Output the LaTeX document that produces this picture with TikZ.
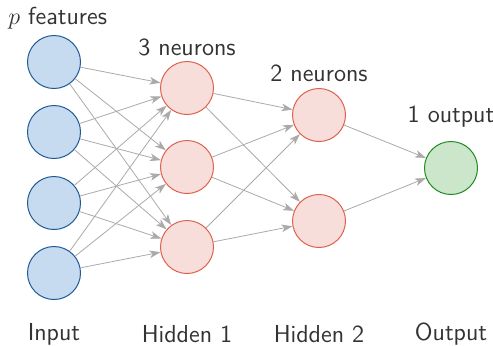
\documentclass[tikz,border=0pt]{standalone}
\usetikzlibrary{arrows.meta}
\definecolor{inblue}{HTML}{1F5A96}
\definecolor{infill}{HTML}{C6DBEF}
\definecolor{hidred}{HTML}{E0604F}
\definecolor{hidfill}{HTML}{F7DEDA}
\definecolor{outgreen}{HTML}{1E8C1E}
\definecolor{outfill}{HTML}{CBE6CB}
\definecolor{linkgray}{HTML}{AAAAAA}
\definecolor{txtgray}{HTML}{333333}
\begin{document}
\begin{tikzpicture}[x=0.5pt,y=-0.5pt,
    neuron/.style={circle,minimum size=26.5pt,inner sep=0pt,line width=0.5pt},
    innode/.style={neuron,draw=inblue,fill=infill},
    hidnode/.style={neuron,draw=hidred,fill=hidfill},
    outnode/.style={neuron,draw=outgreen,fill=outfill},
    link/.style={draw=linkgray,line width=0.4pt,-{Stealth[length=5.5pt,width=3.8pt,inset=1.5pt]}},
    lbl/.style={font=\sffamily\fontsize{12.3}{14}\selectfont,text=txtgray,inner sep=0pt}]

  \useasboundingbox (0,0) rectangle (493,345);

  % layers
  \node[innode] (in1) at (54,62) {};
  \node[innode] (in2) at (54,132) {};
  \node[innode] (in3) at (54,203) {};
  \node[innode] (in4) at (54,273) {};
  \node[hidnode] (ha1) at (187,88) {};
  \node[hidnode] (ha2) at (187,167) {};
  \node[hidnode] (ha3) at (187,247) {};
  \node[hidnode] (hb1) at (319,115) {};
  \node[hidnode] (hb2) at (319,221) {};
  \node[outnode] (out) at (451,168) {};

  % connections
  \foreach \i in {1,...,4}
    \foreach \j in {1,2,3}
      \draw[link] (in\i) -- (ha\j);
  \foreach \j in {1,2,3}
    \foreach \k in {1,2}
      \draw[link] (ha\j) -- (hb\k);
  \draw[link] (hb1) -- (out);
  \draw[link] (hb2) -- (out);

  % labels
  \node[lbl,anchor=west] (lfeat) at (8,18) {$p$ features};
  \node[lbl] (lha) at (187,47) {3 neurons};
  \node[lbl] (lhb) at (319,73) {2 neurons};
  \node[lbl] (lout) at (451,117) {1 output};
  \node[lbl] (tin) at (54,334) {Input};
  \node[lbl] (tha) at (187,334) {Hidden 1};
  \node[lbl] (thb) at (319,334) {Hidden 2};
  \node[lbl] (tout) at (451,334) {Output};

\end{tikzpicture}
\end{document}
